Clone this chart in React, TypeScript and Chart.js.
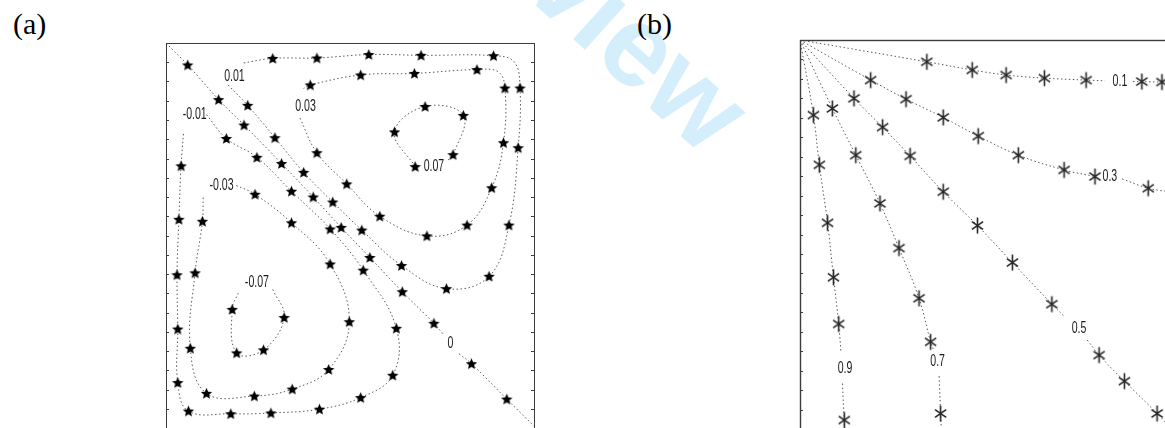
import { useEffect, useRef } from "react";
import { Chart, registerables } from "chart.js";

Chart.register(...registerables);

// A node is [x, y, starred]; null breaks the curve where a level label sits.
type Node = [number, number, number?];
type Path = (Node | null)[];
type Label = [string, number, number];

// ---------- (a) stream-function contours (domain scaled to 0..100) ----------
const psiZero: Path = [
  [0, 100], [5.9, 94.3, 1], [14.3, 85.3, 1], [21.2, 78.7, 1], [31.4, 68.7, 1],
  [40.0, 60.0, 1], [47.6, 52.1, 1], [55.4, 44.3, 1], [64.2, 35.4, 1], [72.8, 27.2, 1],
  [75.3, 24.4], null, [79.6, 19.3], [83.0, 16.7, 1], [92.6, 7.5, 1], [100, 0.5],
];
const psiPos001: Path = [
  [16.9, 89.1], [22.2, 83.8, 1], [29.6, 75.4, 1], [37.4, 66.4, 1], [45.3, 58.7, 1],
  [53.2, 51.4, 1], [64.0, 42.2, 1], [76.2, 36.2, 1], [87.8, 39.4, 1], [93.2, 52.7, 1],
  [95.7, 72.8, 1], [96.2, 88.3, 1], [94.6, 95.1], [89.0, 96.7, 1], [69.3, 96.8, 1],
  [55.1, 97.0, 1], [41.0, 96.1, 1], [29.0, 96.0, 1], [20.4, 94.7],
];
const psiPos003: Path = [
  [36.4, 80.5], [41.0, 71.5, 1], [49.1, 63.4, 1], [58.1, 55.0, 1], [70.9, 49.9, 1],
  [81.8, 52.7, 1], [88.5, 62.4, 1], [91.7, 74.1, 1], [92.1, 88.3, 1], [90.3, 92.5],
  [84.5, 93.1, 1], [67.5, 92.1, 1], [52.9, 91.7, 1], [39.2, 89.1, 1], [37.4, 88.2],
];
const psiPos007: Path = [
  [67.7, 67.9, 1], [62.1, 76.9, 1], [70.4, 83.5, 1], [80.8, 81.2, 1], [78.0, 71.0, 1], [76.1, 69.2],
];
const psiNeg001: Path = [
  [11.0, 81.4], [16.4, 75.2, 1], [24.7, 70.3, 1], [34.1, 61.5, 1], [44.6, 51.7, 1],
  [53.6, 41.0, 1], [62.6, 25.9, 1], [61.6, 13.7, 1], [52.9, 7.9, 1], [41.7, 4.9, 1],
  [28.5, 3.9, 1], [17.6, 3.7, 1], [6.1, 4.4, 1], [3.2, 11.8, 1], [3.2, 25.7, 1],
  [3.0, 39.8, 1], [3.5, 54.2, 1], [4.1, 68.1, 1], [4.8, 77.1],
];
const psiNeg003: Path = [
  [19.1, 63.0], [24.2, 60.7, 1], [34.1, 53.3, 1], [44.6, 42.6, 1], [49.8, 27.6, 1],
  [44.2, 15.2, 1], [34.3, 10.1, 1], [24.0, 8.3, 1], [11.0, 9.0, 1], [6.6, 20.7, 1],
  [7.9, 40.3, 1], [9.9, 53.7, 1], [10.1, 60.0],
];
const psiNeg007: Path = [
  [29.0, 36.0], [32.1, 28.7, 1], [26.5, 20.3, 1], [19.2, 19.5, 1], [18.0, 30.8, 1], [19.9, 35.6],
];
const panelALabels: Label[] = [
  ["0.01", 18.6, 91.4], ["0.03", 37.9, 83.5], ["-0.01", 7.8, 81.4], ["0.07", 72.8, 67.9],
  ["-0.03", 15.1, 63.0], ["-0.07", 24.7, 37.7], ["0", 77.3, 21.9],
];

// ---------- (b) level lines fanning out from the corner ----------
const level01: Path = [
  [0, 100], [34.1, 94.4, 1], [46.3, 92.3, 1], [55.4, 91.0, 1], [65.7, 90.2, 1], [76.9, 89.7, 1],
  [82.0, 89.5], null, [89.5, 89.3], [91.9, 89.3, 1], [97.3, 89.2, 1], [100, 89.2],
];
const level03: Path = [
  [0, 100], [19.0, 89.7, 1], [28.5, 84.8, 1], [38.5, 80.1, 1], [47.9, 75.3, 1], [58.7, 70.4, 1],
  [71.0, 66.6, 1], [79.3, 64.9, 1], null, [86.6, 64.3], [93.6, 61.9, 1], [100, 60.9],
];
const level05: Path = [
  [0, 100], [14.5, 85.0, 1], [22.2, 77.6, 1], [29.6, 70.2, 1], [38.5, 61.0, 1], [47.7, 52.3, 1],
  [57.1, 42.8, 1], [67.7, 32.1, 1], [71.2, 28.8], null, [77.2, 22.9], [80.4, 19.0, 1],
  [87.2, 12.3, 1], [96.0, 4.0, 1], [100, 0],
];
const level07: Path = [
  [0, 100], [8.7, 82.4, 1], [15.0, 70.4, 1], [21.5, 58.0, 1], [26.6, 46.5, 1], [32.0, 33.6, 1],
  [35.1, 22.4, 1], [36.0, 20.1], null, [37.4, 13.6], [37.8, 4.0, 1], [38.0, 0],
];
const level09: Path = [
  [0, 100], [3.6, 80.7, 1], [5.2, 67.9, 1], [7.4, 53.0, 1], [9.0, 39.0, 1], [10.4, 27.0, 1],
  [11.0, 19.9], null, [11.4, 11.7], [11.9, 2.3, 1], [12.1, 0],
];
const panelBLabels: Label[] = [
  ["0.1", 86.0, 89.3], ["0.3", 83.3, 64.9], ["0.5", 75.0, 25.9], ["0.7", 37.0, 17.3], ["0.9", 12.1, 15.6],
];

const panelAPaths = [psiZero, psiPos001, psiPos003, psiPos007, psiNeg001, psiNeg003, psiNeg007];
const panelBPaths = [level01, level03, level05, level07, level09];

// Filled five-pointed star marker.
function makeStar(): HTMLCanvasElement {
  const c = document.createElement("canvas");
  c.width = 13;
  c.height = 13;
  const g = c.getContext("2d")!;
  g.translate(6.5, 7);
  g.beginPath();
  for (let i = 0; i < 10; i++) {
    const r = i % 2 ? 2.7 : 6;
    const a = -Math.PI / 2 + (i * Math.PI) / 5;
    g.lineTo(r * Math.cos(a), r * Math.sin(a));
  }
  g.closePath();
  g.fillStyle = "#000";
  g.fill();
  return c;
}

// Six-armed asterisk marker.
function makeAsterisk(): HTMLCanvasElement {
  const c = document.createElement("canvas");
  c.width = 15;
  c.height = 19;
  const g = c.getContext("2d")!;
  g.translate(7.5, 9.5);
  g.strokeStyle = "#262626";
  g.lineWidth = 1.6;
  g.beginPath();
  g.moveTo(0, -8);
  g.lineTo(0, 8);
  g.moveTo(-5.6, -3.9);
  g.lineTo(5.6, 3.9);
  g.moveTo(-5.6, 3.9);
  g.lineTo(5.6, -3.9);
  g.stroke();
  return c;
}

const levelLabels = {
  id: "levelLabels",
  afterDatasetsDraw(chart: any, _args: any, opts: any) {
    const { ctx, scales } = chart;
    ctx.save();
    ctx.fillStyle = "#1a1a1a";
    ctx.font = `${opts.size}px "Liberation Sans", Arial, sans-serif`;
    ctx.textAlign = "center";
    ctx.textBaseline = "middle";
    for (const [text, vx, vy] of opts.items as Label[]) {
      ctx.save();
      ctx.translate(scales.x.getPixelForValue(vx), scales.y.getPixelForValue(vy));
      ctx.scale(0.66, 1);
      ctx.fillText(text, 0, 0);
      ctx.restore();
    }
    ctx.restore();
  },
};

const boxFrame = {
  id: "boxFrame",
  afterDraw(chart: any, _args: any, opts: any) {
    const { ctx, chartArea, scales } = chart;
    const { left, top, right, bottom } = chartArea;
    ctx.save();
    ctx.strokeStyle = opts.color;
    ctx.lineWidth = opts.width;
    ctx.strokeRect(left + 0.5, top + 0.5, right - left, bottom - top);
    ctx.lineWidth = 1;
    ctx.beginPath();
    for (let v = 0; v <= 100; v += 5) {
      const py = Math.round(scales.y.getPixelForValue(v)) + 0.5;
      ctx.moveTo(left, py);
      ctx.lineTo(left + 3, py);
      ctx.moveTo(right, py);
      ctx.lineTo(right - 3, py);
    }
    ctx.stroke();
    ctx.restore();
  },
};

type PanelProps = {
  paths: Path[];
  labels: Label[];
  glyph: "star" | "asterisk";
  labelSize: number;
  frameWidth: number;
  left: number;
  top: number;
};

function ContourPanel({ paths, labels, glyph, labelSize, frameWidth, left, top }: PanelProps) {
  const ref = useRef<HTMLCanvasElement>(null);
  useEffect(() => {
    const marker = glyph === "star" ? makeStar() : makeAsterisk();
    const chart = new Chart(ref.current!, {
      type: "scatter",
      data: {
        datasets: paths.map((p) => ({
          data: p.map((n) => (n ? { x: n[0], y: n[1], s: n[2] ?? 0 } : { x: NaN, y: NaN, s: 0 })),
          showLine: true,
          spanGaps: false,
          tension: 0.4,
          borderColor: "rgba(20,20,20,0.7)",
          borderWidth: 1,
          borderDash: [1.5, 2.5],
          pointStyle: marker,
          pointRadius: (c: any) => (c.raw && c.raw.s ? 5 : 0),
          pointHoverRadius: (c: any) => (c.raw && c.raw.s ? 5 : 0),
        })) as any,
      },
      options: {
        animation: false,
        responsive: false,
        events: [],
        layout: { padding: 4 },
        scales: {
          x: { type: "linear", min: 0, max: 100, display: false },
          y: { type: "linear", min: 0, max: 100, display: false },
        },
        plugins: {
          legend: { display: false },
          tooltip: { enabled: false },
          levelLabels: { items: labels, size: labelSize },
          boxFrame: { color: "#3c3c3c", width: frameWidth },
        } as any,
      },
      plugins: [levelLabels, boxFrame],
    });
    return () => chart.destroy();
  }, []);
  return (
    <canvas
      ref={ref}
      width={380}
      height={397}
      style={{ position: "absolute", left, top, width: 380, height: 397 }}
    />
  );
}

const panelTitle = {
  position: "absolute" as const,
  top: 9,
  font: '30px "Liberation Serif", "Times New Roman", serif',
  lineHeight: "30px",
  color: "#000",
};

export default function App() {
  return (
    <div
      style={{
        position: "fixed",
        left: 0,
        top: 0,
        width: 1165,
        height: 428,
        overflow: "hidden",
        background: "#fff",
      }}
    >
      <div
        style={{
          position: "absolute",
          left: 105,
          top: -513,
          transform: "rotate(42deg)",
          transformOrigin: "0 0",
          font: 'bold 115px "Liberation Sans", Arial, sans-serif',
          lineHeight: "115px",
          color: "#d4effb",
          whiteSpace: "nowrap",
        }}
      >
        For Peer Review
      </div>
      <div style={{ ...panelTitle, left: 13 }}>(a)</div>
      <div style={{ ...panelTitle, left: 637 }}>(b)</div>
      <ContourPanel
        paths={panelAPaths}
        labels={panelALabels}
        glyph="star"
        labelSize={16}
        frameWidth={1}
        left={160}
        top={37}
      />
      <ContourPanel
        paths={panelBPaths}
        labels={panelBLabels}
        glyph="asterisk"
        labelSize={16}
        frameWidth={1.4}
        left={796}
        top={36}
      />
    </div>
  );
}
